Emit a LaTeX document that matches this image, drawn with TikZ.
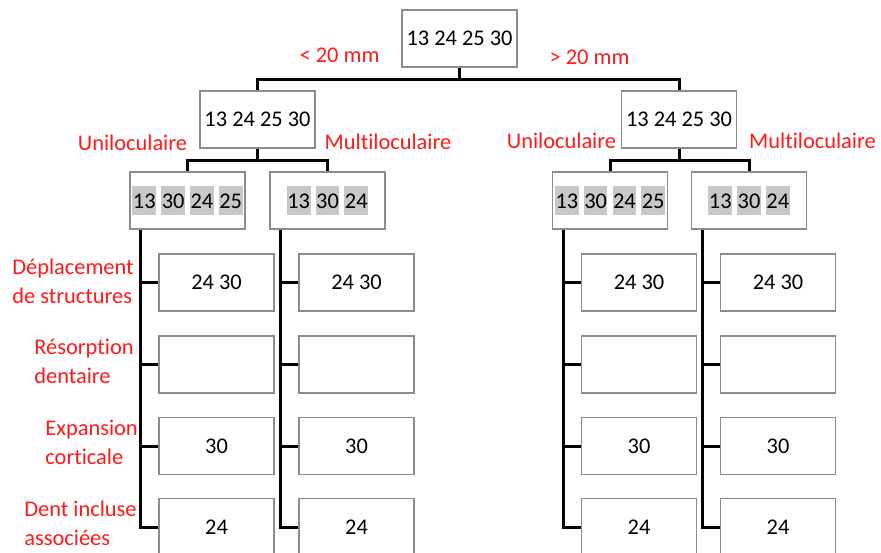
\documentclass[tikz,border=0pt]{standalone}
\usepackage{fontspec}
\setmainfont{Carlito}[Ligatures={NoCommon}]
\definecolor{boxgray}{RGB}{140,140,140}
\definecolor{hlgray}{RGB}{200,200,200}
\definecolor{labred}{RGB}{255,25,25}
\newcommand{\hlnum}[1]{{\setlength{\fboxsep}{0pt}\colorbox{hlgray}{\rule[-0.29em]{0pt}{1.28em}\kern0.25pt#1\kern0.25pt}}}

\begin{document}
\begin{tikzpicture}[x=0.5pt, y=-0.5pt, every node/.style={font=\fontsize{11.2}{14.5}\selectfont},
  box/.style={draw=boxgray, line width=0.6pt, fill=white, inner sep=0pt, minimum width=57.5pt, minimum height=28.5pt},
  lab/.style={text=labred, inner sep=0pt},
  conn/.style={line width=1.5pt}]
  \useasboundingbox (0,0) rectangle (881,552);
  \clip (0,0) rectangle (881,552);
  % tree
  \node[box] (root) at (459.5,38.5) {13 24 25 30};
  \node[box] (lt) at (257.5,119.5) {13 24 25 30};
  \node[box] (rt) at (679,119.5) {13 24 25 30};
  \node[box] (lu) at (187.5,200.5) {\hlnum{13} \hlnum{30} \hlnum{24} \hlnum{25}};
  \node[box] (lm) at (327.5,200.5) {\hlnum{13} \hlnum{30} \hlnum{24}};
  \node[box] (ru) at (610,200.5) {\hlnum{13} \hlnum{30} \hlnum{24} \hlnum{25}};
  \node[box] (rm) at (749,200.5) {\hlnum{13} \hlnum{30} \hlnum{24}};
  \draw[conn] (root.south) -- ++(0,11.5) -| (lt.north);
  \draw[conn] (root.south) -- ++(0,11.5) -| (rt.north);
  \draw[conn] (lt.south) -- ++(0,12) -| (lu.north);
  \draw[conn] (lt.south) -- ++(0,12) -| (lm.north);
  \draw[conn] (rt.south) -- ++(0,12) -| (ru.north);
  \draw[conn] (rt.south) -- ++(0,12) -| (rm.north);
  % criteria boxes
  \foreach \c/\x in {lu/216.5, lm/356.5, ru/639, rm/778}{
    \node[box] (\c1) at (\x,282.5) {24 30};
    \node[box] (\c2) at (\x,364.5) {};
    \node[box] (\c3) at (\x,446) {30};
    \node[box] (\c4) at (\x,527) {24};
    \draw[conn] ([xshift=5.75pt]\c.south west) |- (\c4.west);
    \foreach \k in {1,2,3} \draw[conn] (\c\k.west) -- ++(-18,0);
  }
  % labels
  \node[lab] (lless) at (339.5,55) {< 20 mm};
  \node[lab] (lmore) at (589.5,57) {> 20 mm};
  \node[lab] (luni) at (132.5,143) {Uniloculaire};
  \node[lab] (lmulti) at (388,142) {Multiloculaire};
  \node[lab] (runi) at (561.5,141) {Uniloculaire};
  \node[lab] (rmulti) at (812.5,141) {Multiloculaire};
  \node[lab, anchor=west, align=left] (cdep) at (12,281.5) {Déplacement\\de structures};
  \node[lab, anchor=west, align=left] (cres) at (34,361) {Résorption\\dentaire};
  \node[lab, anchor=west, align=left] (cexp) at (45,442.5) {Expansion\\corticale};
  \node[lab, anchor=west, align=left] (cdent) at (24,523) {Dent incluse\\associées};
\end{tikzpicture}
\end{document}
